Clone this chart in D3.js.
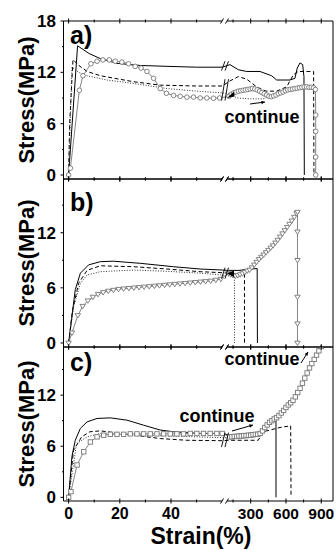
<!DOCTYPE html>
<html><head><meta charset="utf-8">
<script src="https://cdn.jsdelivr.net/npm/d3@7"></script>
<style>
body{margin:0;background:#fff}
svg{display:block}
text{font-family:Arial,"Liberation Sans",Helvetica,sans-serif;font-weight:bold;fill:#000}
</style>
</head><body>
<svg id="chart" width="336" height="550"></svg>
<script>
// ---------------- data ----------------
const panelLabels = ["a)", "b)", "c)"];
const yAxisTitle = "Stress(MPa)";
const xAxisTitle = "Strain(%)";
const yTicks = [0, 6, 12, 18];
const yMinorTicks = [3, 9, 15];
const xTicksLeft = [0, 20, 40];
const xMinorLeft = [10, 30, 50];
const xTicksRight = [300, 600, 900];
const xMinorRight = [150, 450, 750];

// panel a  [strain %, stress MPa]
const aSolid = [[0,0],[3.5,15.1],[8,14.2],[12.4,13.6],[18.9,13.05],[28,12.8],[38.4,12.7],[50,12.6],[60,12.6],
  [124,12.9],[195,12.3],[266,12.1],[379,12.1],[478,11.6],[521,11.1],[634,11.1],[676,11.3],[696,12.5],[719,13.1],[742,12.9],[753,11.5],[756,0]];
const aDashed = [[0,0],[0.4,6],[1.7,13.5],[4,12.8],[7.2,12.1],[12.4,11.6],[25.4,10.9],[35.8,10.5],[50,10.4],[60,10.4],
  [124,11.0],[195,11.5],[266,11.2],[350,10.3],[430,9.8],[520,9.8],[606,10.3],[662,11.7],[704,12.1],[835,12.1],[838,0]];
const aDotted = [[0,0],[1.3,12.6],[4,12.0],[7.2,11.6],[15,11.1],[25.4,10.7],[38.4,10.1],[50,9.8],[60,9.6],
  [124,9.5],[181,9.0],[300,8.9],[407,8.9],[460,9.2]];
const aCircles = [[0,0],[0.7,0.8],[4.2,9.9],[5.6,11.6],[8.7,13.0],[11.1,13.3],[13.4,13.45],[15.9,13.45],[18.2,13.3],[20.8,13.2],
  [23.4,13.0],[26,12.7],[28.3,12.5],[30.6,12.1],[33.2,11.3],[35.8,10.1],[38.2,9.55],[41,9.3],[43.6,9.2],[46.2,9.1],[48.8,9.1],
  [51.4,9.0],[54,9.0],[56.6,8.97],[59,9.0],
  [115,9.2],[135,9.45],[155,9.6],[175,9.7],[195,9.8],[215,9.85],[235,9.9],[255,9.95],[275,10.0],[295,10.05],[315,10.1],
  [335,10.05],[355,9.95],[375,9.8],[395,9.65],[415,9.5],[435,9.35],[455,9.2],[475,9.15],[495,9.25],[515,9.35],[535,9.5],
  [555,9.6],[575,9.7],[595,9.85],[615,9.95],[635,10.0],[655,10.05],[675,10.1],[695,10.15],[715,10.2],[735,10.25],[755,10.3],
  [775,10.3],[795,10.25],[815,10.25],[835,10.2],[850,10.0],[853,7.0],[853,5.1],[853,2.1],[853,0]];

// panel b
const bSolid = [[0,0],[1.3,2.9],[2.6,5.8],[4.6,7.6],[7.8,8.5],[12.4,8.85],[17.6,8.9],[28,8.67],[41,8.3],[51.4,8.05],[60,7.94],
  [110,7.9],[200,7.9],[300,8.05],[355,8.1],[357,0]];
const bDashed = [[0,0],[1.5,3.5],[3.9,6.5],[7.2,7.9],[12.4,8.4],[25.4,8.3],[38.4,8.05],[51.4,7.76],[60,7.65],
  [110,7.6],[200,7.55],[247,7.5],[247,0]];
const bDotted = [[0,0],[2,4],[4.6,6.5],[7.2,7.4],[12.4,7.76],[25.4,7.94],[38.4,7.8],[51.4,7.6],[60,7.4],
  [110,7.3],[162,7.3],[162,0]];
const bTriangles = [[0,0],[1.3,1.1],[3.6,3.0],[5.5,4.0],[7.5,4.6],[9.5,5.0],[11.5,5.3],[13.5,5.5],[15.5,5.65],[17.5,5.75],
  [19.5,5.85],[21.5,5.9],[23.5,5.95],[25.5,6.0],[27.5,6.05],[29.5,6.1],[31.5,6.15],[33.5,6.2],[35.5,6.25],[37.5,6.3],
  [39.5,6.35],[41.5,6.4],[43.5,6.45],[45.5,6.5],[47.5,6.55],[49.5,6.6],[51.5,6.65],[53.5,6.7],[55.5,6.75],[57.5,6.85],[59.5,6.95],
  [110,7.6],[130,7.45],[150,7.35],[170,7.3],[190,7.35],[210,7.45],[230,7.55],[250,7.7],[270,7.85],[290,7.95],[310,8.2],
  [330,8.5],[350,8.8],[370,9.1],[390,9.35],[410,9.6],[430,9.85],[450,10.1],[470,10.35],[490,10.6],[510,10.9],[530,11.2],
  [550,11.55],[570,11.9],[590,12.25],[610,12.6],[630,12.95],[650,13.3],[670,13.7],[690,14.1],[698,14.25],
  [698,12.1],[698,9.0],[698,5.0],[698,2.1],[698,0]];

// panel c
const cSolid = [[0,0],[1.3,4.8],[2.6,6.7],[4.6,8.1],[7.2,8.86],[11.1,9.26],[16.3,9.33],[22.8,9.06],[29.3,8.47],[35.8,7.9],
  [41,7.7],[51.4,7.5],[60,7.5],[124,7.3],[266,7.5],[379,7.5],[464,8.7],[506,8.94],[515,8.94],[515,0]];
const cDashed = [[0,0],[1.9,5.5],[5.1,7.1],[8.3,7.7],[12.4,7.8],[18,7.6],[25.4,7.3],[35.8,6.9],[46.2,6.7],[60,6.65],
  [124,6.7],[364,6.7],[407,7.7],[549,8.2],[640,8.4],[643,0]];
const cDotted = [[0,0],[3.1,6.3],[7.2,7.1],[12.4,7.5],[25,7.35],[40,7.2],[60,7.0],[124,7.0],[300,7.0],[380,7.3]];
const cSquares = [[0,0],[0.9,0.67],[3.3,3.8],[5.9,5.35],[8.5,6.5],[11.1,7.1],[13.7,7.3],[16.3,7.4],[18.9,7.4],[21.5,7.4],
  [24.1,7.45],[26.7,7.45],[29.3,7.45],[31.9,7.45],[34.5,7.45],[37.1,7.45],[39.7,7.45],[42.3,7.45],[44.9,7.45],[47.5,7.5],
  [50.1,7.5],[52.7,7.5],[55.3,7.5],[57.9,7.5],[60,7.5],
  [120,7.1],[140,7.1],[160,7.15],[180,7.15],[200,7.2],[220,7.2],[240,7.25],[260,7.25],[280,7.3],[300,7.3],[320,7.35],
  [340,7.4],[360,7.4],[380,7.5],[400,7.8],[420,8.2],[440,8.5],[460,8.8],[480,9.0],[500,9.2],[520,9.35],[540,9.6],[560,9.9],
  [580,10.2],[600,10.55],[620,10.85],[640,11.1],[660,11.4],[680,11.8],[700,12.3],[720,12.8],[740,13.4],[760,14.0],[780,14.6],
  [800,15.2],[820,15.7],[840,16.2],[860,16.7],[880,17.2],[900,17.7],[920,18.2]];

// ---------------- layout ----------------
const X0 = 63.5, XBL = 222.2, XBR = 227.2, X1 = 333;
const xLeft = d3.scaleLinear().domain([-2, 60]).range([X0, XBL]);
const xRight = d3.scaleLinear().domain([100, 1000]).range([XBR, X1]);
const xs = s => (s <= 80 ? xLeft(s) : xRight(s));

const panels = [
  {top: 21, bottom: 179, dom: [-0.47, 18], ticks: [0,6,12,18], label: [70, 44],
   series: [aSolid, aDashed, aDotted], markers: aCircles, shape: "circle"},
  {top: 179, bottom: 347, dom: [-0.44, 17.85], ticks: [0,6,12], label: [70, 211],
   series: [bSolid, bDashed, bDotted], markers: bTriangles, shape: "tri"},
  {top: 347, bottom: 501, dom: [-0.43, 17.65], ticks: [0,6,12], label: [70, 371],
   series: [cSolid, cDashed, cDotted], markers: cSquares, shape: "sq"}
];
const styles = [
  {dash: null, color: "#000", w: 1},
  {dash: "4,2.5", color: "#000", w: 1},
  {dash: "1,1.6", color: "#333", w: 1}
];

const svg = d3.select("#chart");
const defs = svg.append("defs");

panels.forEach((p, i) => {
  const y = d3.scaleLinear().domain(p.dom).range([p.bottom, p.top]);
  const g = svg.append("g");
  const clipId = "clip" + i;
  defs.append("clipPath").attr("id", clipId).append("rect")
    .attr("x", X0).attr("y", p.top).attr("width", X1 - X0).attr("height", p.bottom - p.top);

  const plot = g.append("g").attr("clip-path", `url(#${clipId})`);
  const line = d3.line().x(d => xs(d[0])).y(d => y(d[1]));

  p.series.forEach((s, k) => {
    plot.append("path").attr("d", line(s)).attr("fill", "none")
      .attr("stroke", styles[k].color).attr("stroke-width", styles[k].w)
      .attr("stroke-dasharray", styles[k].dash);
  });
  plot.append("path").attr("d", line(p.markers)).attr("fill", "none")
    .attr("stroke", "#777").attr("stroke-width", 0.9);
  const mk = plot.selectAll(".m").data(p.markers).join("g")
    .attr("transform", d => `translate(${xs(d[0])},${y(d[1])})`);
  if (p.shape === "circle") {
    mk.append("circle").attr("r", 2.3).attr("fill", "#fff").attr("stroke", "#777").attr("stroke-width", 0.9);
  } else if (p.shape === "tri") {
    mk.append("path").attr("d", "M-2.7,-1.8L2.7,-1.8L0,2.6Z").attr("fill", "#fff").attr("stroke", "#777").attr("stroke-width", 0.9);
  } else {
    mk.append("rect").attr("x", -2.2).attr("y", -2.2).attr("width", 4.4).attr("height", 4.4)
      .attr("fill", "#fff").attr("stroke", "#777").attr("stroke-width", 0.9);
  }

  // frame
  const fr = g.append("g").attr("stroke", "#000").attr("stroke-width", 1).attr("fill", "none");
  fr.append("line").attr("x1", X0).attr("x2", X0).attr("y1", p.top).attr("y2", p.bottom);
  fr.append("line").attr("x1", X1).attr("x2", X1).attr("y1", p.top).attr("y2", p.bottom);
  [p.top, p.bottom].forEach(yy => {
    fr.append("line").attr("x1", X0).attr("x2", XBL).attr("y1", yy).attr("y2", yy);
    fr.append("line").attr("x1", XBR).attr("x2", X1).attr("y1", yy).attr("y2", yy);
    fr.append("line").attr("x1", 220.5).attr("x2", 223.5).attr("y1", yy + 2.5).attr("y2", yy - 2.5);
    fr.append("line").attr("x1", 225.5).attr("x2", 228.5).attr("y1", yy + 2.5).attr("y2", yy - 2.5);
    // x ticks
    const tk = (xv, len) => fr.append("line").attr("x1", xv).attr("x2", xv).attr("y1", yy - len).attr("y2", yy + len);
    xTicksLeft.forEach(t => tk(xLeft(t), 2.5));
    xMinorLeft.forEach(t => tk(xLeft(t), 1.5));
    xTicksRight.forEach(t => tk(xRight(t), 2.5));
    xMinorRight.forEach(t => tk(xRight(t), 1.5));
  });
  // y ticks
  p.ticks.forEach(t => fr.append("line").attr("x1", X0 - 3).attr("x2", X0).attr("y1", y(t)).attr("y2", y(t)));
  yMinorTicks.forEach(t => { if (y(t) > p.top + 2) fr.append("line").attr("x1", X0 - 1.5).attr("x2", X0).attr("y1", y(t)).attr("y2", y(t)); });
  p.ticks.forEach(t => g.append("text").attr("x", 56).attr("y", y(t)).attr("dy", "0.36em")
    .attr("text-anchor", "end").attr("font-size", 17).text(t));

  // break marks on the data
  const bm = g.append("g").attr("stroke", "#000").attr("stroke-width", 0.9);
  const brk = (y1, y2) => {
    bm.append("line").attr("x1", 221.5).attr("x2", 225).attr("y1", y2).attr("y2", y1);
    bm.append("line").attr("x1", 225).attr("x2", 228.5).attr("y1", y2).attr("y2", y1);
  };
  if (i === 0) { brk(y(13.3), y(12.2)); brk(y(11.2), y(8.7)); }
  if (i === 1) { brk(y(8.2), y(7.0)); }
  if (i === 2) { brk(y(7.6), y(5.9)); }

  // panel label
  g.append("text").attr("x", p.label[0]).attr("y", p.label[1]).attr("font-size", 25).text(panelLabels[i]);
  // y title
  g.append("text").attr("transform", `translate(34,${(p.top + p.bottom) / 2}) rotate(-90)`)
    .attr("text-anchor", "middle").attr("font-size", 22).text(yAxisTitle);
});

// x tick labels
xTicksLeft.forEach(t => svg.append("text").attr("x", xLeft(t)).attr("y", 519).attr("text-anchor", "middle").attr("font-size", 16).text(t));
xTicksRight.forEach(t => svg.append("text").attr("x", xRight(t)).attr("y", 519).attr("text-anchor", "middle").attr("font-size", 15.5).text(t));
svg.append("text").attr("x", 201).attr("y", 544).attr("text-anchor", "middle").attr("font-size", 23).text(xAxisTitle);

// annotations
const ann = svg.append("g");
ann.append("text").attr("x", 262).attr("y", 123).attr("text-anchor", "middle").attr("font-size", 18).text("continue");
ann.append("text").attr("x", 217).attr("y", 421.5).attr("text-anchor", "middle").attr("font-size", 18).text("continue");
ann.append("text").attr("x", 262).attr("y", 364.5).attr("text-anchor", "middle").attr("font-size", 18).text("continue");

const arrow = (x1, y1, x2, y2, head) => {
  ann.append("line").attr("x1", x1).attr("y1", y1).attr("x2", x2).attr("y2", y2).attr("stroke", "#000").attr("stroke-width", 1);
  const a = Math.atan2(y2 - y1, x2 - x1), h = head || 4;
  const p1 = [x2 - h * Math.cos(a - 0.45), y2 - h * Math.sin(a - 0.45)];
  const p2 = [x2 - h * Math.cos(a + 0.45), y2 - h * Math.sin(a + 0.45)];
  ann.append("path").attr("d", `M${x2},${y2}L${p1}L${p2}Z`).attr("fill", "#000");
};
arrow(250, 104, 265, 102);
arrow(232, 431, 253, 425);
arrow(301, 363, 308, 352);
// filled arrow heads at the start of continued curves
ann.append("path").attr("d", "M227,98L234,91.5L234.5,96.5Z").attr("fill", "#000");
ann.append("path").attr("d", "M227,273.5L234,270.5L234,277Z").attr("fill", "#000");
</script>
</body></html>
